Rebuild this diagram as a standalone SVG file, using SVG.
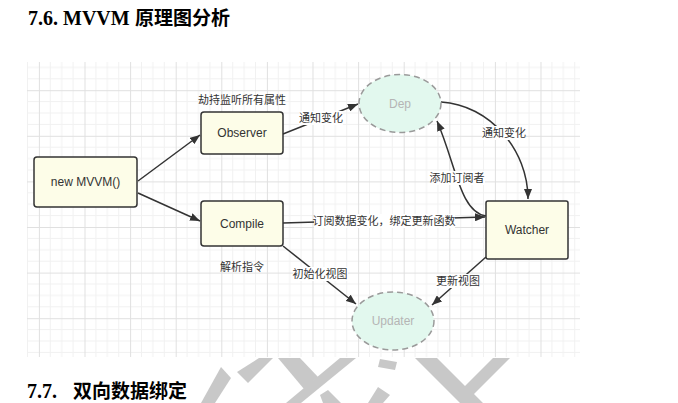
<svg xmlns="http://www.w3.org/2000/svg" width="678" height="403" viewBox="0 0 678 403">
<style>
.h{font-family:"Liberation Serif","Noto Sans CJK SC",serif;font-weight:bold;font-size:20px;fill:#000}
.hc{font-family:"Noto Sans CJK SC","Noto Sans",sans-serif;font-weight:bold;font-size:19px;fill:#000}
.box{fill:#fdfde8;stroke:#333;stroke-width:1.5}
.ell{fill:#e2f8ee;stroke:#9a9a9a;stroke-width:1.5;stroke-dasharray:6 4}
.t{font-family:"Liberation Sans",Arial,sans-serif;font-size:12px;fill:#333;text-anchor:middle}
.te{font-family:"Liberation Sans",Arial,sans-serif;font-size:12px;fill:#b5b5b5;text-anchor:middle}
.c{font-family:"Noto Sans CJK SC","Noto Sans",sans-serif;font-size:11px;fill:#333;text-anchor:middle}
.e{fill:none;stroke:#333;stroke-width:1.5}
.bg{fill:#fff}
.wm{fill:#c8c8c8}
</style>
<defs>
<pattern id="grid" patternUnits="userSpaceOnUse" x="38.9" y="44.6" width="45.6" height="45.6">
<path d="M11.4 0V45.6M22.8 0V45.6M34.2 0V45.6M0 11.4H45.6M0 22.8H45.6M0 34.2H45.6" stroke="#f1f1f1" stroke-width="1" fill="none"/>
<path d="M0.5 0V45.6M0 0.5H45.6" stroke="#e0e0e0" stroke-width="1" fill="none"/>
</pattern>
<marker id="arr" viewBox="0 0 10 8" refX="10" refY="4" markerWidth="10" markerHeight="8" markerUnits="userSpaceOnUse" orient="auto">
<path d="M0 0L10 4L0 8Z" fill="#333"/>
</marker>
</defs>
<rect width="678" height="403" fill="#fff"/>
<text x="28" y="25"><tspan class="h">7.6. MVVM </tspan><tspan class="hc" x="135">原理图分析</tspan></text>
<rect x="27" y="62" width="553" height="295" fill="url(#grid)"/>
<g id="connectors">
<path class="e" d="M138 181L200 135" marker-end="url(#arr)"/>
<path class="e" d="M138 193L200 221" marker-end="url(#arr)"/>
<path class="e" d="M283 134L358 104" marker-end="url(#arr)"/>
<path class="e" d="M441 102C490 105 528 150 528 199" marker-end="url(#arr)"/>
<path class="e" d="M486 216C460 212 456 165 437 121" marker-end="url(#arr)"/>
<path class="e" d="M283 223L485 217" marker-end="url(#arr)"/>
<path class="e" d="M283 246L356 304" marker-end="url(#arr)"/>
<path class="e" d="M486 257L432 305" marker-end="url(#arr)"/>
<rect class="bg" x="299" y="111" width="44" height="14"/>
<text class="c" x="321" y="122">通知变化</text>
<rect class="bg" x="482" y="126" width="44" height="14"/>
<text class="c" x="504" y="137">通知变化</text>
<rect class="bg" x="430" y="171" width="55" height="14"/>
<text class="c" x="457" y="182">添加订阅者</text>
<rect class="bg" x="314" y="214" width="141" height="14"/>
<text class="c" x="384" y="225">订阅数据变化，绑定更新函数</text>
<rect class="bg" x="293" y="267" width="55" height="14"/>
<text class="c" x="320" y="278">初始化视图</text>
<rect class="bg" x="436" y="274" width="44" height="14"/>
<text class="c" x="458" y="285">更新视图</text>
</g>
<g id="new-mvvm">
<rect class="box" x="34" y="157" width="103" height="50" rx="3"/>
<text class="t" x="85.5" y="186">new MVVM()</text>
</g>
<g id="observer">
<rect class="box" x="201" y="112" width="82" height="42" rx="3"/>
<text class="t" x="242" y="137">Observer</text>
<text class="c" x="242" y="104">劫持监听所有属性</text>
</g>
<g id="compile">
<rect class="box" x="201" y="201" width="82" height="45" rx="3"/>
<text class="t" x="242" y="228">Compile</text>
<text class="c" x="242" y="271">解析指令</text>
</g>
<g id="watcher">
<rect class="box" x="486" y="201" width="82" height="58" rx="2"/>
<text class="t" x="527" y="234">Watcher</text>
</g>
<g id="dep">
<ellipse class="ell" cx="400" cy="103.5" rx="41" ry="29"/>
<text class="te" x="400" y="108">Dep</text>
</g>
<g id="updater">
<ellipse class="ell" cx="393" cy="321" rx="41" ry="29"/>
<text class="te" x="393" y="325">Updater</text>
</g>
<g id="watermark">
<polygon class="wm" points="221,367 231,378 215,403 201,403"/>
<polygon class="wm" points="237,372 248,383 273,358 259,358"/>
<polygon class="wm" points="278,358 300,358 318,377 304,389"/>
<polygon class="wm" points="340,358 356,358 301,403 286,403"/>
<polygon class="wm" points="320,395 328,390 341,403 323,403"/>
<polygon class="wm" points="380,359 397,362 395,370 378,367"/>
<polygon class="wm" points="378,387 390,395 383,403 368,403"/>
<polygon class="wm" points="415,358 437,358 465,386 493,358 510,358 474,394 483,403 460,403"/>
</g>
<text x="27" y="398"><tspan class="h">7.7.</tspan><tspan class="hc" x="73">双向数据绑定</tspan></text>
</svg>
